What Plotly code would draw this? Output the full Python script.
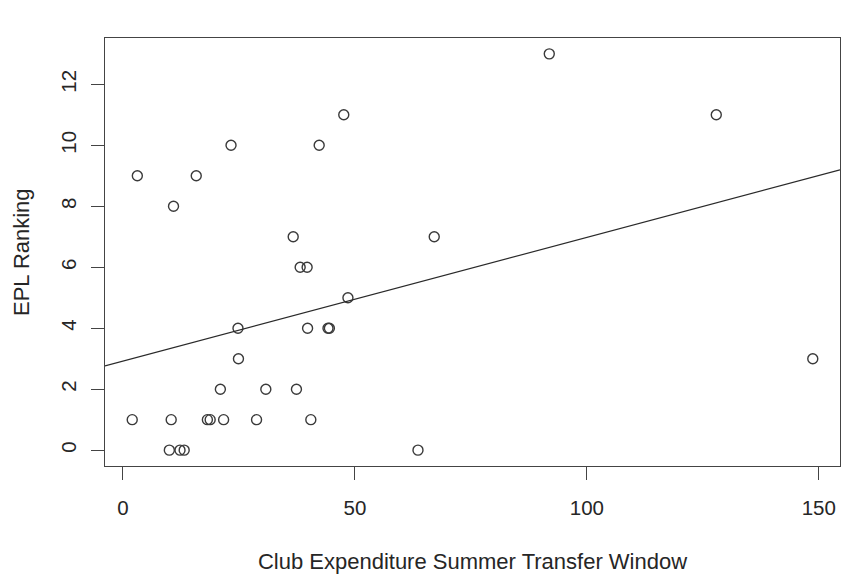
import numpy as np
import plotly.graph_objects as go

# club spending in the summer window vs. EPL ranking
expenditure = [2.0, 3.1, 10.0, 10.4, 10.9, 12.3, 13.2, 15.8, 18.2, 18.8, 21.0,
               21.7, 23.3, 24.8, 24.9, 28.8, 30.8, 36.7, 37.4, 38.2, 39.7, 39.8,
               40.5, 42.3, 44.2, 44.5, 47.6, 48.5, 63.6, 67.1, 91.9, 127.9, 148.7]
ranking = [1, 9, 0, 1, 8, 0, 0, 9, 1, 1, 2,
           1, 10, 4, 3, 1, 2, 7, 2, 6, 6, 4,
           1, 10, 4, 4, 11, 5, 0, 7, 13, 11, 3]
x_ticks = [0, 50, 100, 150]
y_ticks = [0, 2, 4, 6, 8, 10, 12]

x = np.array(expenditure)
y = np.array(ranking)

# R style axis range: data range plus 4% each side
def r_range(v):
    pad = (v.max() - v.min()) * 0.04
    return [v.min() - pad, v.max() + pad]

xr = r_range(x)
yr = r_range(y)

# least squares line (abline(lm(y ~ x)))
slope, intercept = np.polyfit(x, y, 1)
line_x = np.array(xr)
line_y = intercept + slope * line_x

ink = "#262626"
font = dict(family="Liberation Sans, Arial, sans-serif", size=20.5, color=ink)

fig = go.Figure()
fig.add_trace(go.Scatter(
    x=expenditure, y=ranking, mode="markers",
    marker=dict(symbol="circle-open", size=10, color="#3a3a3a",
                line=dict(width=1.4, color="#3a3a3a")),
    showlegend=False,
))
fig.add_trace(go.Scatter(
    x=line_x, y=line_y, mode="lines",
    line=dict(color="#2a2a2a", width=1.2),
    showlegend=False,
))

# page body adds 8px around the figure
fig.update_layout(
    width=851, height=569,
    margin=dict(l=97, r=19, t=30, b=111),
    paper_bgcolor="white", plot_bgcolor="white",
    font=font,
)
fig.update_xaxes(
    range=xr, tickvals=x_ticks, showgrid=False, zeroline=False,
    showline=True, mirror=True, linecolor="#444", linewidth=1.3,
    ticks="outside", ticklen=13, tickwidth=1.3, tickcolor="#444",
    ticklabelstandoff=10, automargin=False,
    title=dict(text="Club Expenditure Summer Transfer Window",
               font=dict(size=22), standoff=35),
)
fig.update_yaxes(
    range=yr, tickvals=y_ticks, showgrid=False, zeroline=False,
    showline=True, mirror=True, linecolor="#444", linewidth=1.3,
    ticks="outside", ticklen=13, tickwidth=1.3, tickcolor="#444",
    tickangle=-90, ticklabelstandoff=7, automargin=False,
)

# y title placed by hand, as far out as the page allows
fig.add_annotation(
    text="EPL Ranking", textangle=-90, font=dict(size=22),
    xref="paper", yref="paper", x=0, y=0.5,
    xanchor="center", yanchor="middle", xshift=-84, showarrow=False,
)

fig.write_html("out.html")
